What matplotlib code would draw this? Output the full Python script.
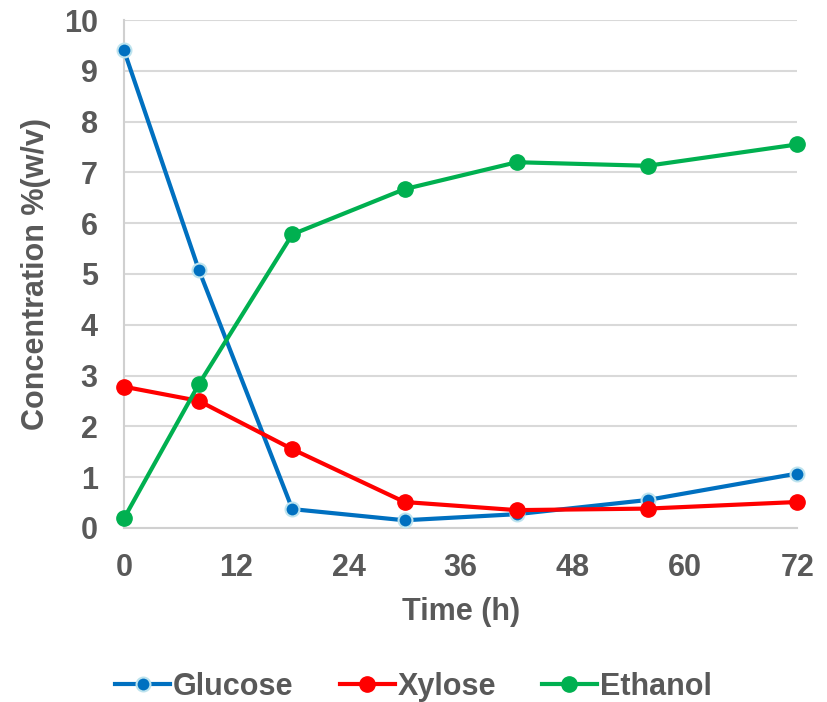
import matplotlib.pyplot as plt

# data
time_h = [0, 8, 18, 30, 42, 56, 72]
glucose = [9.4, 5.08, 0.37, 0.15, 0.27, 0.55, 1.07]
xylose = [2.78, 2.5, 1.55, 0.51, 0.35, 0.38, 0.51]
ethanol = [0.19, 2.83, 5.78, 6.67, 7.2, 7.13, 7.55]

plt.rcParams["font.family"] = ["Liberation Sans", "DejaVu Sans"]
plt.rcParams["font.weight"] = "bold"
txt = "#595959"

fig = plt.figure(figsize=(8.27, 7.02), dpi=100)
ax = fig.add_axes([0.150, 0.248, 0.814, 0.7235])

ax.plot(time_h, glucose, color="#0070C0", lw=3, marker="o", ms=10,
        mfc="#0070C0", mec="#BDE3EE", mew=1.5, label="Glucose", zorder=3)
ax.plot(time_h, xylose, color="#FF0000", lw=3, marker="o", ms=11,
        mfc="#FF0000", mec="#FF0000", label="Xylose", zorder=3)
ax.plot(time_h, ethanol, color="#00B050", lw=3, marker="o", ms=11,
        mfc="#00B050", mec="#00B050", label="Ethanol", zorder=3)

ax.set_xlim(0, 72)
ax.set_ylim(0, 10)
ax.set_xticks(range(0, 73, 12))
ax.set_yticks(range(0, 11))
ax.grid(axis="y", color="#D9D9D9", lw=1.5)
ax.set_axisbelow(True)
for s in ["top", "right"]:
    ax.spines[s].set_visible(False)
for s in ["left", "bottom"]:
    ax.spines[s].set_color("#D0D0D0")
    ax.spines[s].set_linewidth(1.5)
ax.tick_params(axis="y", length=0, labelsize=22, colors=txt, pad=19)
ax.tick_params(axis="x", length=0, labelsize=22, colors=txt, pad=18)
for ln in ax.get_lines():
    ln.set_clip_on(False)

ax.set_xlabel("Time (h)", fontsize=22, color=txt, fontweight="bold", labelpad=10)
ax.set_ylabel("Concentration %(w/v)", fontsize=22, color=txt, fontweight="bold", labelpad=9)

leg = fig.legend(loc="center", bbox_to_anchor=(0.5, 0.022), ncol=3, frameon=False,
                 fontsize=22, handlelength=1.8, columnspacing=1.5, handletextpad=0.1)
for t in leg.get_texts():
    t.set_color(txt)

fig.savefig("out.png", dpi=100)
